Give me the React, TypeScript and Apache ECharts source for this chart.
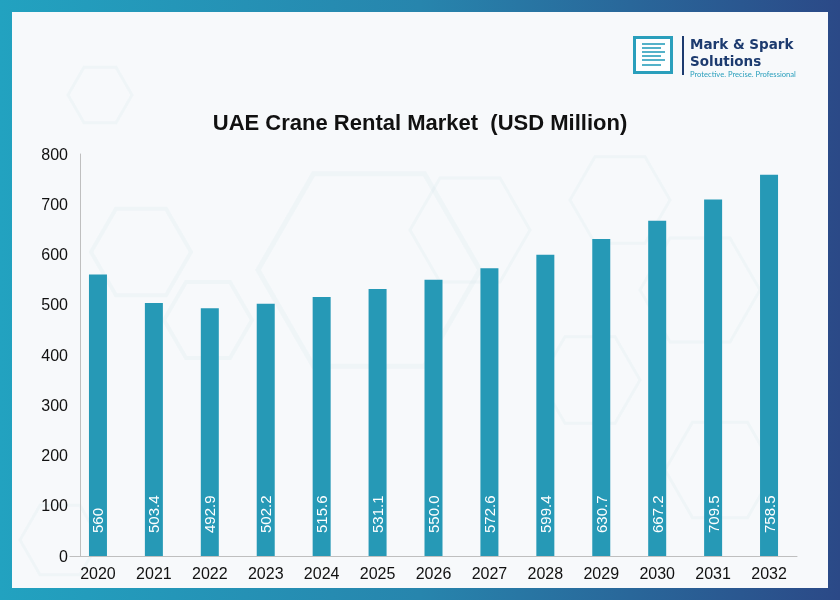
import React, { useEffect, useRef } from "react";
import * as echarts from "echarts";

const years = ["2020", "2021", "2022", "2023", "2024", "2025", "2026", "2027", "2028", "2029", "2030", "2031", "2032"];
const marketValues = [560, 503.4, 492.9, 502.2, 515.6, 531.1, 550.0, 572.6, 599.4, 630.7, 667.2, 709.5, 758.5];
const valueLabels = ["560", "503.4", "492.9", "502.2", "515.6", "531.1", "550.0", "572.6", "599.4", "630.7", "667.2", "709.5", "758.5"];
const titleText = "UAE Crane Rental Market  (USD Million)";

function hexPoints(cx: number, cy: number, r: number) {
  const pts: number[][] = [];
  for (let i = 0; i < 6; i++) {
    const a = (Math.PI / 3) * i;
    pts.push([cx + r * Math.cos(a), cy + r * Math.sin(a)]);
  }
  return pts;
}

const hexes = [
  [100, 95, 32, 3],
  [141, 252, 50, 4],
  [208, 320, 44, 4],
  [369, 270, 111, 5],
  [470, 230, 60, 3],
  [620, 200, 50, 3],
  [700, 290, 60, 3],
  [590, 380, 50, 3],
  [720, 470, 55, 3],
  [60, 540, 40, 3],
];

export default function App() {
  const ref = useRef<HTMLDivElement>(null);
  useEffect(() => {
    if (!ref.current) return;
    const chart = echarts.init(ref.current, null, { renderer: "svg" });
    const hexGraphics = hexes.map(([cx, cy, r, w]) => ({
      type: "polygon",
      z: -90,
      silent: true,
      shape: { points: hexPoints(cx, cy, r) },
      style: { fill: "none", stroke: "rgba(205,225,235,0.18)", lineWidth: w },
    }));
    const logoLines = [44, 48, 52, 56, 60, 65].map((y, i) => ({
      type: "line",
      z: 10,
      shape: { x1: 642, y1: y, x2: i % 2 === 0 ? 665 : 661, y2: y },
      style: { stroke: "#2a9fbc", lineWidth: 1.6 },
    }));
    chart.setOption({
      animation: false,
      graphic: [
        {
          type: "rect",
          z: -100,
          silent: true,
          shape: { x: 0, y: 0, width: 840, height: 600 },
          style: {
            fill: new echarts.graphic.LinearGradient(0, 0, 1, 0, [
              { offset: 0, color: "#22a2c0" },
              { offset: 0.5, color: "#2785ad" },
              { offset: 1, color: "#2b4987" },
            ]),
          },
        },
        {
          type: "rect",
          z: -95,
          silent: true,
          shape: { x: 12, y: 12, width: 816, height: 576 },
          style: { fill: "#f7f9fb" },
        },
        ...hexGraphics,
        {
          type: "rect",
          z: 10,
          shape: { x: 634.5, y: 37.5, width: 37, height: 35 },
          style: { fill: "#ffffff", stroke: "#2a9fbc", lineWidth: 3 },
        },
        ...logoLines,
        {
          type: "line",
          z: 10,
          shape: { x1: 683, y1: 36, x2: 683, y2: 75 },
          style: { stroke: "#1d3b6f", lineWidth: 2 },
        },
        {
          type: "text",
          z: 10,
          x: 690,
          y: 44,
          style: {
            text: "Mark & Spark",
            fill: "#1d3b6f",
            font: "bold 13.5px 'DejaVu Sans'",
            textVerticalAlign: "middle",
          },
        },
        {
          type: "text",
          z: 10,
          x: 690,
          y: 60.5,
          style: {
            text: "Solutions",
            fill: "#1d3b6f",
            font: "bold 13.5px 'DejaVu Sans'",
            textVerticalAlign: "middle",
          },
        },
        {
          type: "text",
          z: 10,
          x: 690,
          y: 73.6,
          style: {
            text: "Protective. Precise. Professional",
            fill: "#2a9fbc",
            font: "7.6px Lato",
            textVerticalAlign: "middle",
          },
        },
      ],
      title: {
        text: titleText,
        left: "center",
        top: 106,
        textStyle: {
          fontFamily: "Liberation Sans",
          fontWeight: "bold",
          fontSize: 22,
          color: "#111111",
        },
      },
      grid: { left: 70, width: 727, top: 154, bottom: 44, containLabel: false },
      xAxis: {
        type: "category",
        data: years,
        axisLine: { show: true, lineStyle: { color: "#bfbfbf", width: 1 } },
        axisTick: { show: false },
        axisLabel: { fontFamily: "Liberation Sans", fontSize: 16, color: "#111111", margin: 9 },
      },
      yAxis: {
        type: "value",
        min: 0,
        max: 800,
        interval: 100,
        offset: -10,
        axisLine: { show: true, lineStyle: { color: "#bfbfbf", width: 1 } },
        axisTick: { show: false },
        splitLine: { show: false },
        axisLabel: { fontFamily: "Liberation Sans", fontSize: 16, color: "#111111", margin: 12 },
      },
      series: [
        {
          type: "bar",
          data: marketValues,
          barWidth: 18,
          itemStyle: { color: "#2699b6" },
          label: {
            show: true,
            position: "insideBottom",
            rotate: 90,
            align: "left",
            verticalAlign: "middle",
            distance: 23,
            color: "#ffffff",
            fontFamily: "Liberation Sans",
            fontSize: 15,
            formatter: (p: any) => valueLabels[p.dataIndex],
          },
        },
      ],
    });
    return () => chart.dispose();
  }, []);
  return <div ref={ref} style={{ position: "fixed", left: 0, top: 0, width: 840, height: 600 }} />;
}
